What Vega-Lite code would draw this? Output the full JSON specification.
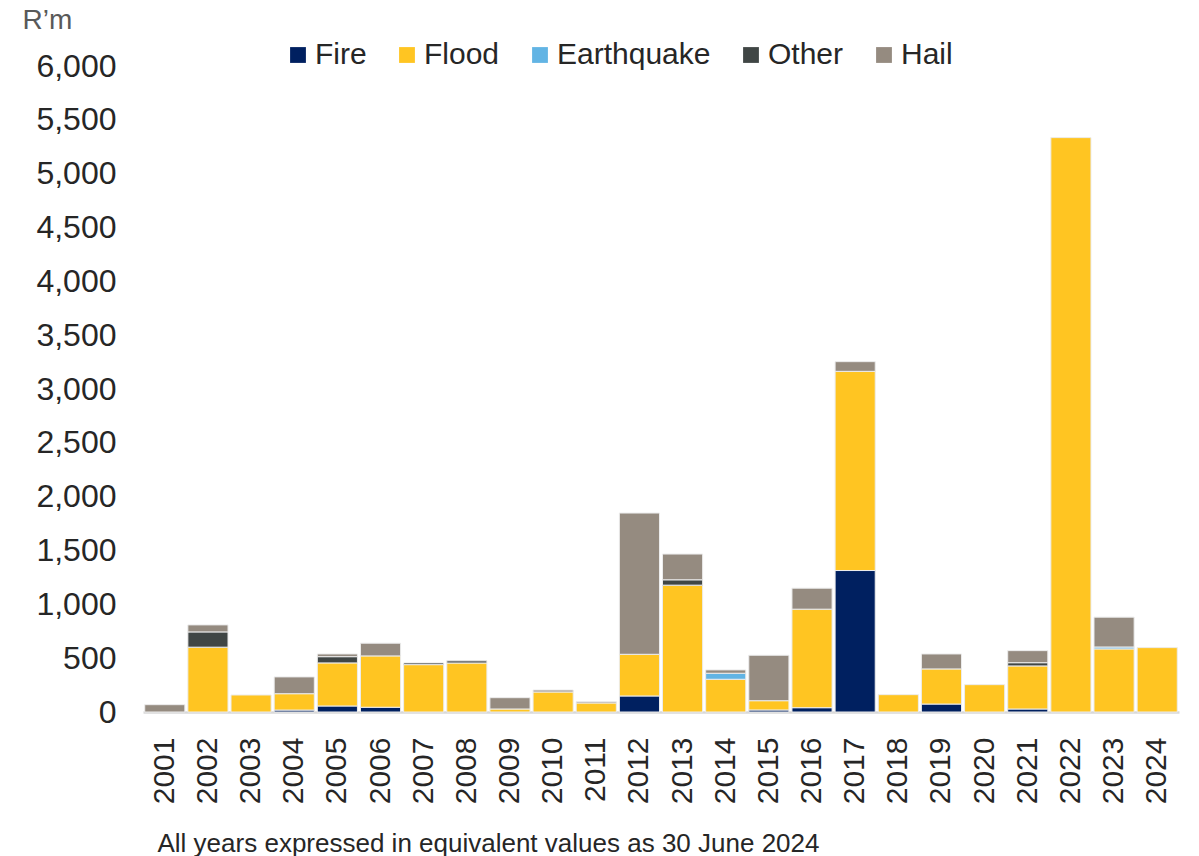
{
  "$schema": "https://vega.github.io/schema/vega-lite/v6.json",
  "width": 1036,
  "height": 646,
  "autosize": {"type": "none"},
  "padding": {"left": 143, "top": 66, "right": 20, "bottom": 144},
  "background": "white",
  "data": {
    "values": [
      {"year": "2001", "type": "Hail", "value": 68},
      {"year": "2002", "type": "Flood", "value": 602},
      {"year": "2002", "type": "Other", "value": 142},
      {"year": "2002", "type": "Hail", "value": 65},
      {"year": "2003", "type": "Flood", "value": 158},
      {"year": "2004", "type": "Fire", "value": 18},
      {"year": "2004", "type": "Flood", "value": 152},
      {"year": "2004", "type": "Hail", "value": 156},
      {"year": "2005", "type": "Fire", "value": 56},
      {"year": "2005", "type": "Flood", "value": 400},
      {"year": "2005", "type": "Other", "value": 58},
      {"year": "2005", "type": "Hail", "value": 25},
      {"year": "2006", "type": "Fire", "value": 44},
      {"year": "2006", "type": "Flood", "value": 477},
      {"year": "2006", "type": "Hail", "value": 118},
      {"year": "2007", "type": "Flood", "value": 440},
      {"year": "2007", "type": "Other", "value": 16},
      {"year": "2008", "type": "Flood", "value": 455},
      {"year": "2008", "type": "Other", "value": 20},
      {"year": "2009", "type": "Flood", "value": 28},
      {"year": "2009", "type": "Hail", "value": 105},
      {"year": "2010", "type": "Flood", "value": 186},
      {"year": "2010", "type": "Hail", "value": 18},
      {"year": "2011", "type": "Flood", "value": 84},
      {"year": "2011", "type": "Hail", "value": 12},
      {"year": "2012", "type": "Fire", "value": 149},
      {"year": "2012", "type": "Flood", "value": 387},
      {"year": "2012", "type": "Hail", "value": 1312},
      {"year": "2013", "type": "Flood", "value": 1178},
      {"year": "2013", "type": "Other", "value": 50},
      {"year": "2013", "type": "Hail", "value": 239},
      {"year": "2014", "type": "Flood", "value": 304},
      {"year": "2014", "type": "Earthquake", "value": 56},
      {"year": "2014", "type": "Hail", "value": 31},
      {"year": "2015", "type": "Fire", "value": 19},
      {"year": "2015", "type": "Flood", "value": 86},
      {"year": "2015", "type": "Hail", "value": 422},
      {"year": "2016", "type": "Fire", "value": 40},
      {"year": "2016", "type": "Flood", "value": 915},
      {"year": "2016", "type": "Hail", "value": 195},
      {"year": "2017", "type": "Fire", "value": 1314},
      {"year": "2017", "type": "Flood", "value": 1850},
      {"year": "2017", "type": "Hail", "value": 90},
      {"year": "2018", "type": "Flood", "value": 161},
      {"year": "2019", "type": "Fire", "value": 74},
      {"year": "2019", "type": "Flood", "value": 326},
      {"year": "2019", "type": "Hail", "value": 139},
      {"year": "2020", "type": "Flood", "value": 254},
      {"year": "2021", "type": "Fire", "value": 28},
      {"year": "2021", "type": "Flood", "value": 400},
      {"year": "2021", "type": "Other", "value": 30},
      {"year": "2021", "type": "Hail", "value": 112},
      {"year": "2022", "type": "Flood", "value": 5335},
      {"year": "2023", "type": "Flood", "value": 586},
      {"year": "2023", "type": "Earthquake", "value": 18},
      {"year": "2023", "type": "Hail", "value": 277},
      {"year": "2024", "type": "Flood", "value": 598}
    ]
  },
  "transform": [
    {"calculate": "indexof(['Fire', 'Flood', 'Earthquake', 'Other', 'Hail'], datum.type)", "as": "stackRank"}
  ],
  "mark": {"type": "bar", "stroke": "#ececec", "strokeWidth": 1},
  "encoding": {
    "x": {
      "field": "year",
      "type": "ordinal",
      "scale": {"paddingInner": 0.07, "paddingOuter": 0.04},
      "axis": {
        "title": "All years expressed in equivalent values as 30 June 2024",
        "titleAngle": 0,
        "titleAlign": "left",
        "titleBaseline": "middle",
        "titleX": 14,
        "titleY": 131,
        "titleFont": "Liberation Sans",
        "titleFontSize": 26,
        "titleFontWeight": "normal",
        "titleColor": "#262626",
        "labelAngle": -90,
        "labelAlign": "right",
        "labelBaseline": "middle",
        "labelFont": "Liberation Sans",
        "labelFontSize": 30,
        "labelColor": "#262626",
        "labelPadding": 25,
        "ticks": false,
        "domainColor": "#d9d9d9",
        "domainWidth": 2.5
      }
    },
    "y": {
      "field": "value",
      "type": "quantitative",
      "stack": "zero",
      "scale": {"domain": [0, 6000], "nice": false},
      "axis": {
        "title": "R’m",
        "titleAngle": 0,
        "titleAlign": "left",
        "titleBaseline": "middle",
        "titleX": -121,
        "titleY": -46,
        "titleFont": "Liberation Sans",
        "titleFontSize": 28,
        "titleFontWeight": "normal",
        "titleColor": "#595959",
        "values": [0, 500, 1000, 1500, 2000, 2500, 3000, 3500, 4000, 4500, 5000, 5500, 6000],
        "format": ",d",
        "labelFont": "Liberation Sans",
        "labelFontSize": 32,
        "labelColor": "#262626",
        "labelPadding": 27,
        "ticks": false,
        "domain": false,
        "grid": false
      }
    },
    "order": {"field": "stackRank", "type": "quantitative", "sort": "ascending"},
    "color": {
      "field": "type",
      "type": "nominal",
      "scale": {
        "domain": ["Fire", "Flood", "Earthquake", "Other", "Hail"],
        "range": ["#002060", "#FFC522", "#62B4E4", "#404645", "#958B80"]
      },
      "legend": {
        "title": null,
        "orient": "none",
        "legendX": 140,
        "legendY": -26,
        "direction": "horizontal",
        "symbolType": "square",
        "symbolSize": 250,
        "symbolStrokeWidth": 0,
        "labelFont": "Liberation Sans",
        "labelFontSize": 30,
        "labelColor": "#262626",
        "labelOffset": 2,
        "columnPadding": 25
      }
    }
  },
  "config": {"view": {"stroke": null}}
}
